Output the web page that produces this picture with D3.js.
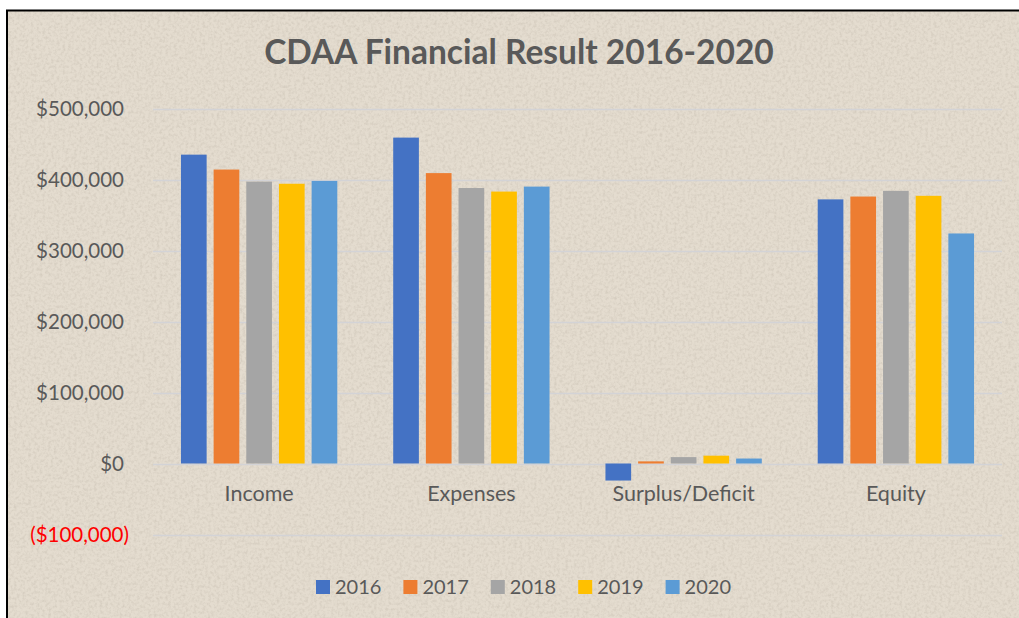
<!DOCTYPE html>
<html>
<head>
<meta charset="utf-8">
<script src="https://cdn.jsdelivr.net/npm/d3@7"></script>
<style>
  html, body { margin: 0; padding: 0; background: #fff; }
  svg { display: block; }
</style>
</head>
<body>
<div id="chart"></div>
<script>
// CDAA financial result
var categories = ['Income', 'Expenses', 'Surplus/Deficit', 'Equity'];
var years = ['2016', '2017', '2018', '2019', '2020'];
var income = [435000, 414000, 397000, 394000, 398000];
var expenses = [459000, 409000, 388000, 383000, 390000];
var surplus = [-24000, 3000, 9000, 11000, 7000];
var equity = [372000, 376000, 384000, 377000, 324000];
var yTicks = [-100000, 0, 100000, 200000, 300000, 400000, 500000];
var colors = ['#4472C4', '#ED7D31', '#A5A5A5', '#FFC000', '#5B9BD5'];

var seriesByCat = [income, expenses, surplus, equity];

var W = 1019, H = 618;
var font = 'Lato, "Open Sans", sans-serif';
var textCol = '#595959';

var svg = d3.select('#chart').append('svg')
    .attr('width', W)
    .attr('height', H);

// paper texture
var defs = svg.append('defs');
var f = defs.append('filter').attr('id', 'paper').attr('x', 0).attr('y', 0).attr('width', '100%').attr('height', '100%');
f.append('feTurbulence').attr('type', 'fractalNoise').attr('baseFrequency', 0.35).attr('numOctaves', 3).attr('seed', 4).attr('result', 'n');
f.append('feColorMatrix').attr('in', 'n').attr('type', 'matrix')
    .attr('values', '0 0 0 0 0.45  0 0 0 0 0.40  0 0 0 0 0.33  0 0 0 -1.6 0.95')
    .attr('result', 'specks');
f.append('feComposite').attr('in', 'specks').attr('in2', 'SourceGraphic').attr('operator', 'in');

// chart frame: border line on top and left only
svg.append('rect')
    .attr('x', 7).attr('y', 10)
    .attr('width', W - 7).attr('height', H - 10)
    .attr('fill', '#e4dccf');
svg.append('rect')
    .attr('x', 7).attr('y', 10)
    .attr('width', W - 7).attr('height', H - 10)
    .attr('fill', '#e4dccf')
    .attr('filter', 'url(#paper)')
    .attr('opacity', 0.4);
svg.append('path')
    .attr('d', 'M7,' + H + 'V10.5H' + W)
    .attr('fill', 'none')
    .attr('stroke', '#000')
    .attr('stroke-width', 2);

var plotLeft = 153, plotRight = 1002;

var x0 = d3.scaleBand()
    .domain(categories)
    .range([plotLeft, plotRight])
    .padding(0);

var x1 = d3.scaleBand()
    .domain(years)
    .range([0, x0.bandwidth()])
    .paddingInner(0.214)
    .paddingOuter(0.856);

var y = d3.scaleLinear()
    .domain([-100000, 500000])
    .range([534.5, 108.5]);

// gridlines
svg.append('g').selectAll('line')
    .data(yTicks)
    .join('line')
    .attr('x1', plotLeft).attr('x2', plotRight)
    .attr('y1', d => Math.round(y(d)) + 0.5)
    .attr('y2', d => Math.round(y(d)) + 0.5)
    .attr('stroke', '#d3d3d6')
    .attr('stroke-width', 1.5);

// tick labels
var fmt = d3.format(',');
svg.append('g').selectAll('text')
    .data(yTicks)
    .join('text')
    .attr('x', d => d < 0 ? 129 : 124)
    .attr('y', d => y(d))
    .attr('dy', '0.35em')
    .attr('text-anchor', 'end')
    .attr('font-family', font)
    .attr('font-size', '20.5px')
    .attr('fill', d => d < 0 ? '#FF0000' : textCol)
    .text(d => d < 0 ? '($' + fmt(-d) + ')' : '$' + fmt(d));

// bars
var groups = svg.append('g').selectAll('g')
    .data(categories)
    .join('g')
    .attr('transform', d => 'translate(' + x0(d) + ',0)');

groups.selectAll('rect')
    .data((d, i) => seriesByCat[i].map((v, j) => ({year: years[j], value: v, color: colors[j]})))
    .join('rect')
    .attr('x', d => x1(d.year))
    .attr('width', x1.bandwidth())
    .attr('y', d => y(Math.max(0, d.value)))
    .attr('height', d => Math.abs(y(d.value) - y(0)))
    .attr('fill', d => d.color);

// category labels
svg.append('g').selectAll('text')
    .data(categories)
    .join('text')
    .attr('x', d => x0(d) + x0.bandwidth() / 2)
    .attr('y', 501)
    .attr('text-anchor', 'middle')
    .attr('font-family', font)
    .attr('font-size', '21.5px')
    .attr('fill', textCol)
    .text(d => d);

// title
svg.append('text')
    .attr('x', 519)
    .attr('y', 64)
    .attr('text-anchor', 'middle')
    .attr('font-family', font)
    .attr('font-weight', 'bold')
    .attr('font-size', '33.5px')
    .attr('fill', textCol)
    .text('CDAA Financial Result 2016-2020');

// legend
var legend = svg.append('g').selectAll('g')
    .data(years)
    .join('g')
    .attr('transform', (d, i) => 'translate(' + (316 + i * 87.4) + ',580)');

legend.append('rect')
    .attr('width', 14).attr('height', 14)
    .attr('fill', (d, i) => colors[i]);

legend.append('text')
    .attr('x', 19)
    .attr('y', 14)
    .attr('font-family', font)
    .attr('font-size', '20px')
    .attr('fill', textCol)
    .text(d => d);
</script>
</body>
</html>
